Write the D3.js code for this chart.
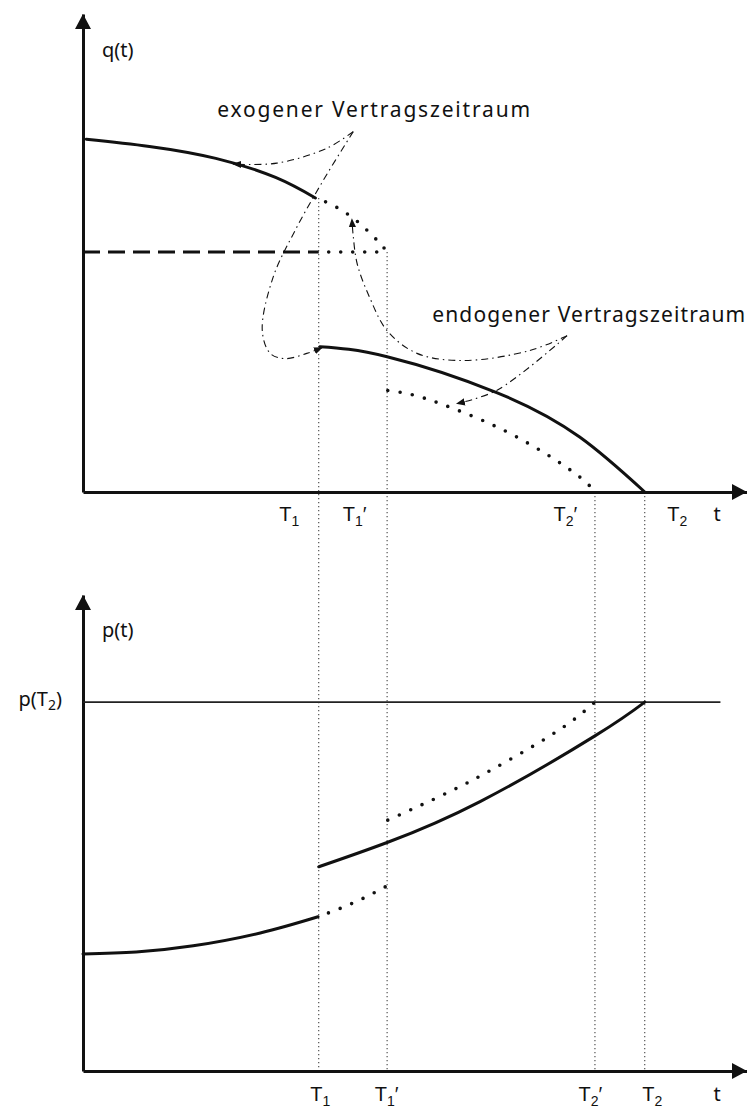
<!DOCTYPE html>
<html>
<head>
<meta charset="utf-8">
<script src="https://cdn.jsdelivr.net/npm/d3@7"></script>
<style>
body{margin:0;background:#fff;}
svg{font-family:"Noto Sans",sans-serif;}
</style>
</head>
<body>
<div class="chart"></div>
<script>
// time markers (same on both t axes)
const tNames = ['T1', "T1'", "T2'", 'T2'];
const tValues = [3.55, 4.58, 7.71, 8.46];
// where each dotted guide starts in the q chart
const guideStartQ = [6.15, 5.02, 0, 0];

// q(t) chart
const qExoSolid  = [[0.05,7.38],[1.0,7.23],[2.0,6.98],[2.9,6.58],[3.5,6.15]];
const qExoDotted = [[3.5,6.15],[3.67,6.06],[4.05,5.75],[4.44,5.25],[4.58,5.02]];
const qLevel = 5.02;
const qEndoSolid  = [[3.57,3.04],[4.58,2.83],[6.23,2.08],[7.48,1.15],[8.46,0]];
const qEndoDotted = [[4.59,2.125],[5.0,2.02],[5.57,1.75],[6.48,1.19],[7.38,0.42],[7.71,0]];

// p(t) chart
const pT2 = 7.75;
const pExoSolid  = [[0,2.46],[0.8,2.50],[1.66,2.63],[2.67,2.90],[3.54,3.24]];
const pExoDotted = [[3.54,3.24],[4.1,3.55],[4.62,3.92]];
const pEndoSolid  = [[3.55,4.29],[4.58,4.80],[5.98,5.66],[7.71,7.04],[8.46,7.75]];
const pEndoDotted = [[4.59,5.27],[5.48,5.84],[6.17,6.34],[6.88,6.91],[7.38,7.37],[7.71,7.75]];

// annotations in the q chart (leader lines in t/q units)
const exoText = 'exogener Vertragszeitraum';
const exoAt = [2.02, 7.85];
const exoLeaders = [
  [[4.07,7.54],[3.67,7.19],[2.92,6.88],[2.26,6.86]],
  [[4.07,7.54],[3.61,6.5],[3.19,5.46],[2.86,4.48],[2.70,3.375],[2.82,2.90],[3.04,2.79],[3.37,2.90],[3.60,3.02]]
];
const endoText = 'endogener Vertragszeitraum';
const endoAt = [5.26, 3.56];
const endoLeaders = [
  [[7.29,3.27],[6.73,2.96],[5.72,2.75],[5.03,2.90],[4.58,3.375],[4.32,4.06],[4.13,4.77],[4.07,5.35],[4.05,5.71]],
  [[7.29,3.27],[6.23,2.125],[5.63,1.85]]
];

const svg_width = 747, svg_height = 1109;
const svg = d3.select('.chart').append('svg')
  .attr('width', svg_width).attr('height', svg_height)
  .style('background', '#fff');

const ink = '#111';
const x = d3.scaleLinear().domain([0,10]).range([83,747]);
const yTop = d3.scaleLinear().domain([0,10]).range([492,14]);
const yBot = d3.scaleLinear().domain([0,10]).range([1071,595]);

// arrowhead marker for leader lines
svg.append('defs').append('marker')
  .attr('id','lead').attr('viewBox','0 -5 10 10')
  .attr('refX',9).attr('refY',0)
  .attr('markerWidth',9).attr('markerHeight',9)
  .attr('markerUnits','userSpaceOnUse').attr('orient','auto')
  .append('path').attr('d','M0,-4L10,0L0,4Z').attr('fill',ink);

// dotted guides from q chart down to p axis
svg.selectAll('.guide').data(tValues).enter().append('line')
  .attr('class','guide')
  .attr('x1', d=>x(d)).attr('x2', d=>x(d))
  .attr('y1', (d,i)=>yTop(guideStartQ[i])).attr('y2', yBot(0))
  .attr('stroke','#444').attr('stroke-width',1.1)
  .attr('stroke-dasharray','1.3,2.7');

function lineFor(y, curve){
  return d3.line().x(d=>x(d[0])).y(d=>y(d[1])).curve(curve || d3.curveNatural);
}
function solid(g, data, y){
  g.append('path').attr('d', lineFor(y)(data))
    .attr('fill','none').attr('stroke',ink).attr('stroke-width',3)
    .attr('stroke-linecap','round');
}
function dotted(g, data, y, skip){
  g.append('path').attr('d', lineFor(y)(data))
    .attr('fill','none').attr('stroke',ink).attr('stroke-width',3.6)
    .attr('stroke-linecap','round').attr('stroke-dasharray','0,12.5')
    .attr('stroke-dashoffset', skip ? -11 : 0);
}

function addT(sel, name, big, small){
  // "T1'" -> T + subscript 1 + prime
  sel.text(null);
  sel.append('tspan').text(name[0]).style('font-size', big+'px');
  sel.append('tspan').text(name[1]).style('font-size', small+'px').attr('dy', 5);
  if (name.length > 2) sel.append('tspan').text('\u2032').style('font-size', big+'px').attr('dy', -5);
}

function axes(g, y, baseY, tickDx, labelY, axisName, axisNameY){
  const xAxis = d3.axisBottom(x).tickValues(tValues).tickSize(0).tickSizeOuter(0);
  const xg = g.append('g').attr('transform',`translate(0,${baseY})`).call(xAxis);
  xg.select('.domain').attr('stroke',ink).attr('stroke-width',3);
  xg.selectAll('.tick text')
    .attr('y', labelY).attr('dy', 0).attr('fill',ink)
    .attr('dx', (d,i)=>tickDx[i])
    .each(function(d,i){ addT(d3.select(this), tNames[i], 20, 14); });
  g.append('path')
    .attr('d', `M${x(10)},${baseY}L${x(10)-15},${baseY-8}L${x(10)-15},${baseY+8}Z`)
    .attr('fill',ink);
  g.append('text').attr('x', 717).attr('y', baseY+labelY).attr('text-anchor','middle')
    .style('font-size','20px').attr('fill',ink).text('t');

  const yg = g.append('g').attr('transform',`translate(${x(0)},0)`)
    .call(d3.axisLeft(y).tickValues([]).tickSizeOuter(0));
  yg.select('.domain').attr('stroke',ink).attr('stroke-width',3);
  g.append('path')
    .attr('d', `M${x(0)},${y(10)}L${x(0)-8},${y(10)+15}L${x(0)+8},${y(10)+15}Z`)
    .attr('fill',ink);
  g.append('text').attr('x', x(0)+19).attr('y', axisNameY)
    .style('font-size','20px').attr('fill',ink).text(axisName);
  return yg;
}

// ---------- q(t) chart ----------
const qChart = svg.append('g');
axes(qChart, yTop, yTop(0), [-30,-33,-30,32], 29, 'q(t)', 57);

qChart.append('line')
  .attr('x1', x(0)).attr('x2', x(tValues[0])).attr('y1', yTop(qLevel)).attr('y2', yTop(qLevel))
  .attr('stroke',ink).attr('stroke-width',3).attr('stroke-dasharray','17,8');
qChart.append('line')
  .attr('x1', x(tValues[0])+10).attr('x2', x(tValues[1])).attr('y1', yTop(qLevel)).attr('y2', yTop(qLevel))
  .attr('stroke',ink).attr('stroke-width',3.6).attr('stroke-linecap','round').attr('stroke-dasharray','0,12');

solid(qChart, qExoSolid, yTop);
dotted(qChart, qExoDotted, yTop, true);
solid(qChart, qEndoSolid, yTop);
dotted(qChart, qEndoDotted, yTop);

const leader = lineFor(yTop, d3.curveCatmullRom.alpha(0.5));
exoLeaders.concat(endoLeaders).forEach(pts=>{
  qChart.append('path').attr('d', leader(pts))
    .attr('fill','none').attr('stroke',ink).attr('stroke-width',1.1)
    .attr('stroke-dasharray','7,4,1.5,4').attr('marker-end','url(#lead)');
});

qChart.append('text').attr('x', x(exoAt[0])).attr('y', yTop(exoAt[1]))
  .attr('textLength', 313).attr('lengthAdjust','spacing')
  .style('font-size','21px').attr('fill',ink).text(exoText);
qChart.append('text').attr('x', x(endoAt[0])).attr('y', yTop(endoAt[1]))
  .attr('textLength', 313).attr('lengthAdjust','spacing')
  .style('font-size','21px').attr('fill',ink).text(endoText);

// ---------- p(t) chart ----------
const pChart = svg.append('g');
axes(pChart, yBot, yBot(0), [1,-1,-5,7], 30, 'p(t)', 637);

pChart.append('line')
  .attr('x1', x(0)).attr('x2', x(9.6)).attr('y1', yBot(pT2)).attr('y2', yBot(pT2))
  .attr('stroke','#222').attr('stroke-width',1.6);

// p(T2) label on the p axis
const pLab = pChart.append('text').attr('x', x(0)-21).attr('y', yBot(pT2)+4)
  .attr('text-anchor','end').style('font-size','20px').attr('fill',ink);
pLab.append('tspan').text('p(T');
pLab.append('tspan').text('2').style('font-size','14px').attr('dy',4);
pLab.append('tspan').text(')').attr('dy',-4);

solid(pChart, pExoSolid, yBot);
dotted(pChart, pExoDotted, yBot, true);
solid(pChart, pEndoSolid, yBot);
dotted(pChart, pEndoDotted, yBot);
</script>
</body>
</html>
